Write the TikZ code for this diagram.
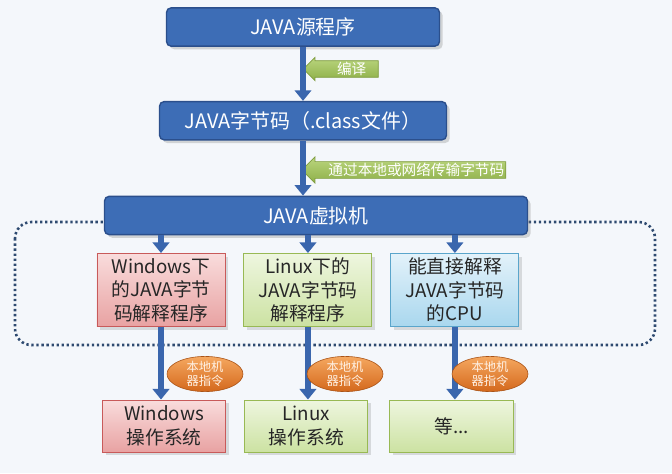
\documentclass[tikz,border=0pt]{standalone}
\usepackage{fontspec}
\setmainfont{Noto Sans CJK SC}
\usetikzlibrary{positioning}
\usetikzlibrary{shapes.arrows,shapes.geometric,arrows.meta,shadows}

\definecolor{javablue}{HTML}{3D6DB6}
\definecolor{javaedge}{HTML}{2B4F8C}
\definecolor{arrowblue}{HTML}{3A66AD}
\definecolor{framecol}{HTML}{2E4A70}
\definecolor{redtop}{HTML}{F9DCDC}
\definecolor{redbot}{HTML}{E8A2A2}
\definecolor{rededge}{HTML}{C85A5A}
\definecolor{greentop}{HTML}{EEF6DF}
\definecolor{greenbot}{HTML}{CCE2A2}
\definecolor{greenedge}{HTML}{98B954}
\definecolor{cputop}{HTML}{E3F2FA}
\definecolor{cpubot}{HTML}{A9D7EE}
\definecolor{cpuedge}{HTML}{5AA5CB}
\definecolor{leaftop}{HTML}{BAD57E}
\definecolor{leafbot}{HTML}{8EB048}
\definecolor{leafedge}{HTML}{7E9C3E}
\definecolor{orangetop}{HTML}{F5A860}
\definecolor{orangebot}{HTML}{D4681C}
\definecolor{bgtint}{HTML}{F4F7FB}

\begin{document}
\begin{tikzpicture}[
    x=0.03cm, y=-0.03cm,
    bluebox/.style={draw=javaedge, line width=1.2pt, fill=javablue, rounded corners=4pt,
        text=white, minimum height=1.15cm, font=\fontsize{17}{20}\selectfont,
        drop shadow={opacity=0.3}},
    osbox/.style={line width=0.8pt, text=black!85, align=center, inner sep=1pt,
        font=\fontsize{16}{20}\selectfont, drop shadow={opacity=0.25}},
    midbox/.style={osbox, minimum width=3.84cm, minimum height=2.19cm},
    lowbox/.style={osbox, minimum width=3.7cm, minimum height=1.56cm},
    redfill/.style={draw=rededge, top color=redtop, bottom color=redbot},
    greenfill/.style={draw=greenedge, top color=greentop, bottom color=greenbot},
    cpufill/.style={draw=cpuedge, top color=cputop, bottom color=cpubot},
    leafarrow/.style={single arrow, shape border rotate=180, draw=leafedge, line width=0.6pt,
        top color=leaftop, bottom color=leafbot, text=white, inner sep=1pt,
        font=\fontsize{12.5}{13}\selectfont},
    nativetag/.style={ellipse, draw=orangebot!80!black, line width=0.5pt,
        top color=orangetop, bottom color=orangebot, text=orange!10, align=center,
        minimum width=2.28cm, minimum height=0.9cm, inner sep=0pt,
        font=\fontsize{10.5}{11.5}\selectfont},
    flow/.style={draw=arrowblue, line width=5pt, -{Triangle[width=14pt,length=9pt]}},
    vmframe/.style={draw=framecol, line width=2.2pt, dash pattern=on 2pt off 2.3pt,
        rounded corners=14pt}
    ]
    \fill[bgtint] (0,0) rectangle (672,473);
    \useasboundingbox (0,0) rectangle (672,473);

    %Frame
    \draw[vmframe] (15,222) rectangle (655,345);

    %Nodes
    \node[bluebox, minimum width=8.19cm] (src) at (303,27) {JAVA源程序};
    \node[bluebox, minimum width=8.61cm, below=1.62cm of src] (bytecode) {JAVA字节码（.class文件）};
    \node[bluebox, minimum width=12.69cm, below=1.65cm of bytecode, xshift=0.39cm] (jvm) {JAVA虚拟机};

    \node[midbox, redfill] (winterp) at (161,290) {Windows下\\的JAVA字节\\码解释程序};
    \node[midbox, greenfill, right=0.54cm of winterp] (linterp) {Linux下的\\JAVA字节码\\解释程序};
    \node[midbox, cpufill, right=0.54cm of linterp] (cpu) {能直接解释\\JAVA字节码\\的CPU};

    \node[lowbox, redfill] (winos) at (164,426) {Windows\\操作系统};
    \node[lowbox, greenfill, right=0.54cm of winos] (linos) {Linux\\操作系统};
    \node[lowbox, greenfill, right=0.63cm of linos] (others) {等...};

    \node[leafarrow, minimum height=2.25cm, minimum width=0.5cm,
        single arrow head extend=0.1cm] (compile) at (345,69) {\hspace{0.4cm}编译};
    \node[leafarrow, minimum height=6.03cm, minimum width=0.74cm,
        single arrow head extend=0.14cm] (transfer) at (408,170) {\hspace{0.5cm}通过本地或网络传输字节码};

    %Lines
    \draw[flow] (src.south) -- (bytecode.north);
    \draw[flow] (bytecode.south) -- (bytecode.south |- jvm.north);

    \draw[flow] (jvm.south -| winterp.north) -- (winterp.north);
    \draw[flow] (jvm.south -| linterp.north) -- (linterp.north);
    \draw[flow] (jvm.south -| cpu.north) -- (cpu.north);

    \draw[flow] (winterp.south) -- (winterp.south |- winos.north);
    \draw[flow] (linterp.south) -- (linterp.south |- linos.north);
    \draw[flow] (cpu.south) -- (cpu.south |- others.north);

    %Tags
    \node[nativetag] (native1) at (205,374) {本地机\\器指令};
    \node[nativetag] (native2) at (345,374) {本地机\\器指令};
    \node[nativetag] (native3) at (490,374) {本地机\\器指令};

    \end{tikzpicture}
\end{document}
